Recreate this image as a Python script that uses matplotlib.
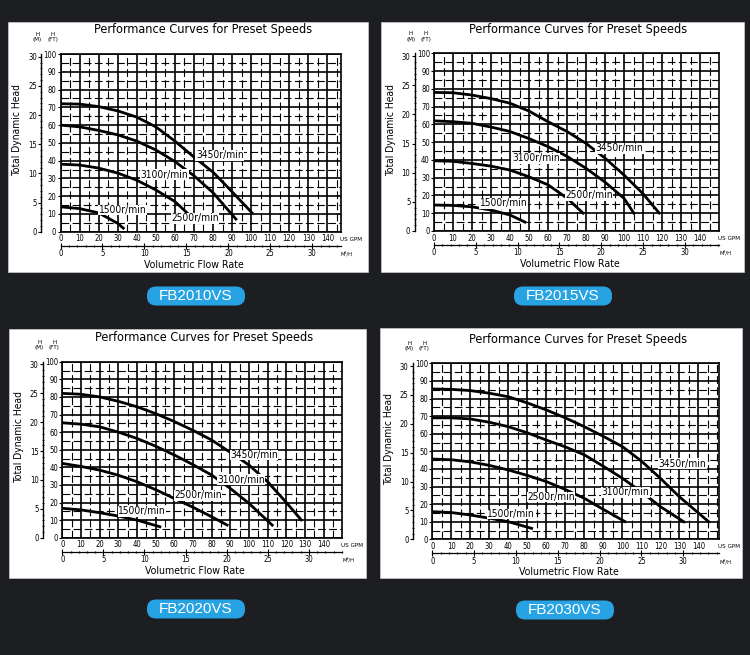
import matplotlib
matplotlib.use('Agg')
import matplotlib.pyplot as plt
from matplotlib import font_manager as fm
from matplotlib.patches import Rectangle, FancyBboxPatch
from matplotlib.ticker import MultipleLocator

# pick a narrow face if one is installed, the chart uses a condensed sans
fonts = fm.fontManager.ttflist
names = {f.name for f in fonts}
if 'Liberation Sans Narrow' in names:
    base, stretch = 'Liberation Sans Narrow', 'normal'
elif any(f.name == 'DejaVu Sans' and f.stretch == 'condensed' for f in fonts):
    base, stretch = 'DejaVu Sans', 'condensed'
else:
    cond = sorted(n for n in names if 'Condensed' in n or 'Narrow' in n)
    base, stretch = (cond[0] if cond else 'Liberation Sans'), 'normal'
plt.rcParams['font.family'] = [base, 'DejaVu Sans']
plt.rcParams['font.stretch'] = stretch

# ---- data (flow in US GPM, head in ft) ----
speeds = ['3450r/min', '3100r/min', '2500r/min', '1500r/min']

# FB2010VS
fb2010_q3450 = [0, 10, 20, 30, 40, 50, 60, 70, 80, 90, 101]
fb2010_h3450 = [72, 71.8, 70.4, 68, 64.5, 59, 51, 42, 33.5, 22.5, 10]
fb2010_q3100 = [0, 10, 20, 30, 40, 50, 60, 70, 80, 92.5]
fb2010_h3100 = [60, 59, 57, 54.5, 51, 46, 39.5, 31.5, 22, 6.5]
fb2010_q2500 = [0, 10, 20, 30, 40, 50, 60, 67.5]
fb2010_h2500 = [38, 37.5, 35.8, 33, 29, 23.5, 17, 9.5]
fb2010_q1500 = [0, 10, 20, 30, 33.5]
fb2010_h1500 = [14, 13, 10.6, 4.7, 1.5]

# FB2015VS
fb2015_q3450 = [0, 10, 20, 30, 40, 50, 60, 70, 80, 90, 100, 110, 119]
fb2015_h3450 = [78, 77.8, 76.5, 74.5, 71.9, 67.5, 61.5, 56, 49.3, 41, 31.5, 21, 9.5]
fb2015_q3100 = [0, 10, 20, 30, 40, 50, 60, 70, 80, 90, 100, 105.5]
fb2015_h3100 = [62, 61.5, 60.6, 58.5, 56, 52, 47.5, 42, 35.3, 27.5, 18.4, 9.5]
fb2015_q2500 = [0, 10, 20, 30, 40, 50, 60, 70, 79]
fb2015_h2500 = [39.5, 39.2, 38, 36.5, 34.3, 30.5, 26, 18.5, 9.5]
fb2015_q1500 = [0, 10, 20, 30, 40, 48.5]
fb2015_h1500 = [14.6, 14.4, 13.6, 11.8, 9, 4.7]

# FB2020VS
fb2020_q3450 = [0, 10, 20, 30, 40, 50, 60, 70, 80, 90, 100, 110, 120, 128.5]
fb2020_h3450 = [82, 81.5, 80, 77.5, 74.4, 70.5, 66, 61, 55.5, 48.5, 41.3, 31.8, 20, 9.5]
fb2020_q3100 = [0, 10, 20, 30, 40, 50, 60, 70, 80, 90, 100, 113]
fb2020_h3100 = [65.3, 64.5, 63, 60, 56.4, 52, 47, 41.5, 35.6, 28, 19.5, 6.6]
fb2020_q2500 = [0, 10, 20, 30, 40, 50, 60, 70, 80, 89]
fb2020_h2500 = [42.2, 40.5, 38.4, 35.5, 31.8, 27.3, 22.3, 17.3, 11.9, 6.8]
fb2020_q1500 = [0, 10, 20, 30, 40, 53]
fb2020_h1500 = [16.7, 15.8, 14.2, 12.3, 10, 6]

# FB2030VS
fb2030_q3450 = [0, 10, 20, 30, 40, 50, 60, 70, 80, 90, 100, 110, 120, 130, 140, 146]
fb2030_h3450 = [85.4, 85.2, 84.5, 83, 81, 77.5, 73.5, 69, 64, 58.5, 52.7, 44.5, 34.7, 24.2, 15, 9.5]
fb2030_q3100 = [0, 10, 20, 30, 40, 50, 60, 70, 80, 90, 100, 110, 120, 133]
fb2030_h3100 = [69, 69, 68.4, 66.5, 64, 60.5, 56.4, 52.5, 48, 41.5, 34.7, 27, 18.6, 9.5]
fb2030_q2500 = [0, 10, 20, 30, 40, 50, 60, 70, 80, 90, 102]
fb2030_h2500 = [45.6, 45.2, 44, 42, 39.4, 36.3, 32.8, 28.3, 23.3, 17, 9.7]
fb2030_q1500 = [0, 10, 20, 30, 40, 53]
fb2030_h1500 = [15.7, 15.2, 13.8, 12, 10, 6]

gpm_ticks = list(range(0, 150, 10))
ft_ticks = list(range(0, 110, 10))
m_ticks = [0, 5, 10, 15, 20, 25, 30]
m3h_ticks = [0, 5, 10, 15, 20, 25, 30]

W, H = 750, 655
fig = plt.figure(figsize=(7.5, 6.55), dpi=100)
fig.patch.set_facecolor('#1d1e21')
renderer = fig.canvas.get_renderer()


def fit_size(s, width_px):
    # font size that gives the text about the width seen on the reference
    t = fig.text(0, 0, s, fontsize=10)
    w = t.get_window_extent(renderer).width
    t.remove()
    return 10 * width_px / w


title_fs = fit_size('Performance Curves for Preset Speeds', 218)
curve_fs = fit_size('3450r/min', 47)
axis_fs = fit_size('Total Dynamic Head', 92)
flow_fs = fit_size('Volumetric Flow Rate', 100)
tick_fs = fit_size('110', 13)
unit_fs = fit_size('US GPM', 22)


def fx(x):
    return x / W


def fy(y):
    return 1 - y / H


def panel(model, box, grid, xmax, curves, labpos, btn):
    bx0, by0, bx1, by1 = box
    fig.add_artist(Rectangle((fx(bx0), fy(by1)), (bx1 - bx0) / W, (by1 - by0) / H,
                             transform=fig.transFigure, fc='white', ec='#cccccc',
                             lw=0.5, zorder=-5))
    gx0, gy0, gx1, gy1 = grid
    gw, gh = gx1 - gx0, gy1 - gy0
    ax = fig.add_axes([fx(gx0), fy(gy1), gw / W, gh / H])
    ax.set_facecolor('white')
    ax.set_xlim(0, xmax)
    ax.set_ylim(0, 100)
    ax.set_xticks(gpm_ticks)
    ax.set_yticks(ft_ticks)
    ax.xaxis.set_minor_locator(MultipleLocator(5))
    ax.yaxis.set_minor_locator(MultipleLocator(5))
    ax.grid(which='major', color='black', lw=1.2)
    ax.grid(which='minor', color='black', lw=0.8, ls=(0, (7, 3)))
    ax.set_axisbelow(True)
    ax.tick_params(which='both', length=0, labelsize=tick_fs, pad=2)
    ax.tick_params(axis='y', which='major', length=2.5, width=0.8, pad=0.5)
    for s in ax.spines.values():
        s.set_linewidth(1.2)

    for (q, h) in curves:
        ax.plot(q, h, color='black', lw=2.0, solid_capstyle='butt', zorder=3)
    for name, (tx, ty) in zip(speeds, labpos):
        ax.text(tx, ty, name, fontsize=curve_fs, ha='left', va='center', zorder=4,
                bbox=dict(fc='white', ec='none', pad=0.3))

    # metre head axis
    sy = ax.secondary_yaxis(-19.5 / gw, functions=(lambda f: f / 3.2808, lambda m: m * 3.2808))
    sy.set_yticks(m_ticks)
    sy.yaxis.set_minor_locator(MultipleLocator(1))
    sy.tick_params(which='major', length=2.5, width=0.8, labelsize=tick_fs, pad=0.5)
    sy.tick_params(which='minor', length=2, width=0.6, direction='inout')
    sy.spines['left'].set_linewidth(1.0)

    # m3/h flow axis
    sx = ax.secondary_xaxis(-14 / gh, functions=(lambda g: g / 4.4029, lambda m: m * 4.4029))
    sx.set_xticks(m3h_ticks)
    sx.xaxis.set_minor_locator(MultipleLocator(1))
    sx.tick_params(which='major', length=4, width=0.8, labelsize=tick_fs, pad=0.5,
                   direction='inout')
    sx.tick_params(which='minor', length=2, width=0.8, direction='inout')
    sx.spines['bottom'].set_linewidth(0.9)

    fig.text(fx((gx0 + gx1) / 2 + 2), fy(gy0 - 24), 'Performance Curves for Preset Speeds',
             fontsize=title_fs, ha='center', va='center')
    fig.text(fx(gx0 - 23), fy(gy0 - 17), 'H\n(M)', fontsize=4.5, ha='center', va='center',
             linespacing=1.1)
    fig.text(fx(gx0 - 8), fy(gy0 - 17), 'H\n(FT)', fontsize=4.5, ha='center', va='center',
             linespacing=1.1)
    fig.text(fx(gx1 + 10), fy(gy1 + 7.5), 'US GPM', fontsize=unit_fs, ha='center', va='center')
    fig.text(fx(gx1 + 6), fy(gy1 + 22), 'M³/H', fontsize=unit_fs * 0.9, ha='center',
             va='center')
    fig.text(fx(gx0 - 43), fy(gy0 + 0.43 * gh), 'Total Dynamic Head', fontsize=axis_fs,
             rotation=90, ha='center', va='center')
    fig.text(fx((gx0 + gx1) / 2 - 7), fy(gy1 + 33), 'Volumetric Flow Rate', fontsize=flow_fs,
             ha='center', va='center')

    cx, cy = btn
    bw, bh = 98, 19
    fig.add_artist(FancyBboxPatch(((cx - bw / 2) / 100, (H - cy - bh / 2) / 100),
                                  bw / 100, bh / 100,
                                  boxstyle='round,pad=0,rounding_size=0.09',
                                  transform=fig.dpi_scale_trans, fc='#27a3e3', ec='none'))
    fig.text(fx(cx), fy(cy), model, fontsize=11, color='white', ha='center', va='center',
             family=['Liberation Sans', 'DejaVu Sans'], stretch='normal')


panel('FB2010VS', (8, 22, 368, 272), (60.5, 54, 340.7, 231.7), 147,
      [(fb2010_q3450, fb2010_h3450), (fb2010_q3100, fb2010_h3100),
       (fb2010_q2500, fb2010_h2500), (fb2010_q1500, fb2010_h1500)],
      [(71, 43), (42, 32), (58, 7.5), (20, 12.2)], (196, 296))

panel('FB2015VS', (381, 22, 744, 272), (434, 53.3, 719, 231), 150,
      [(fb2015_q3450, fb2015_h3450), (fb2015_q3100, fb2015_h3100),
       (fb2015_q2500, fb2015_h2500), (fb2015_q1500, fb2015_h1500)],
      [(85, 46.5), (41, 41), (69, 20), (24, 15.6)], (563, 296))

panel('FB2020VS', (9, 329, 366, 578), (62.3, 361.7, 342.3, 537.7), 150,
      [(fb2020_q3450, fb2020_h3450), (fb2020_q3100, fb2020_h3100),
       (fb2020_q2500, fb2020_h2500), (fb2020_q1500, fb2020_h1500)],
      [(90, 47), (83, 33), (60, 24), (30, 15)], (196, 609))

panel('FB2030VS', (380, 328, 742, 578), (432.3, 363.3, 719, 539.3), 150.9,
      [(fb2030_q3450, fb2030_h3450), (fb2030_q3100, fb2030_h3100),
       (fb2030_q2500, fb2030_h2500), (fb2030_q1500, fb2030_h1500)],
      [(119, 43), (89, 26.7), (50, 24), (29, 14.4)], (565, 610))

fig.savefig('out.png', dpi=100, facecolor=fig.get_facecolor())
